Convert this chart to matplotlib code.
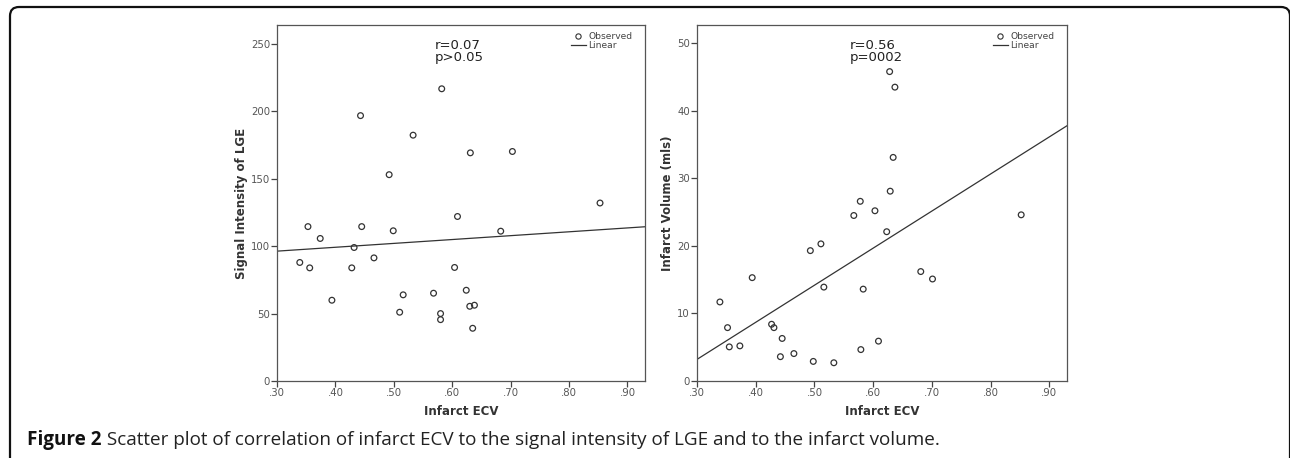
import numpy as np
import matplotlib
matplotlib.use("Agg")
import matplotlib.pyplot as plt
from matplotlib.lines import Line2D
from matplotlib.patches import FancyBboxPatch
from matplotlib.transforms import IdentityTransform

# infarct ECV for the 29 patients (same x in both panels)
ecv_si = [0.582, 0.443, 0.533, 0.631, 0.703, 0.492, 0.853, 0.609, 0.353, 0.445,
          0.499, 0.683, 0.374, 0.432, 0.339, 0.356, 0.428, 0.466, 0.604, 0.394,
          0.516, 0.510, 0.568, 0.624, 0.630, 0.638, 0.580, 0.580, 0.635]
signal_lge = [216.7, 196.8, 182.3, 169.2, 170.2, 153.0, 132.0, 122.0, 114.5, 114.5,
              111.4, 111.1, 105.7, 99.0, 87.9, 83.9, 83.9, 91.3, 84.2, 59.9,
              63.9, 51.0, 65.1, 67.3, 55.4, 56.2, 50.0, 45.5, 39.1]

ecv_vol = [0.628, 0.637, 0.634, 0.629, 0.578, 0.603, 0.567, 0.852, 0.623, 0.511,
           0.493, 0.394, 0.681, 0.701, 0.516, 0.583, 0.339, 0.352, 0.427, 0.431,
           0.355, 0.373, 0.445, 0.442, 0.465, 0.498, 0.533, 0.579, 0.609]
infarct_vol = [45.8, 43.5, 33.1, 28.1, 26.6, 25.2, 24.5, 24.6, 22.1, 20.3,
               19.3, 15.3, 16.2, 15.1, 13.9, 13.6, 11.7, 7.9, 8.4, 7.9,
               5.05, 5.2, 6.3, 3.6, 4.06, 2.9, 2.7, 4.65, 5.9]

# linear fit lines: value at ECV=.30 and slope
fit_si = (96.3, 28.7)
fit_vol = (3.2, 54.9)

x_ticks = [0.30, 0.40, 0.50, 0.60, 0.70, 0.80, 0.90]
x_ticklabels = [".30", ".40", ".50", ".60", ".70", ".80", ".90"]
si_ticks = [0, 50, 100, 150, 200, 250]
vol_ticks = [0, 10, 20, 30, 40, 50]

stats_si = "r=0.07\np>0.05"
stats_vol = "r=0.56\np=0002"
caption_bold = "Figure 2"
caption_text = " Scatter plot of correlation of infarct ECV to the signal intensity of LGE and to the infarct volume."

W, H = 1290, 458
fig = plt.figure(figsize=(W / 100, H / 100), dpi=100)


def make_panel(rect, x, y, fit, yticks, ylim, ylabel, stats, stats_x):
    ax = fig.add_axes(rect)
    ax.scatter(x, y, s=17, facecolors="none", edgecolors="#333333", linewidths=0.9, zorder=3)
    xs = np.array([0.30, 0.93])
    ax.plot(xs, fit[0] + fit[1] * (xs - 0.30), color="#333333", lw=0.9)
    ax.set_xlim(0.30, 0.93)
    ax.set_ylim(*ylim)
    ax.set_xticks(x_ticks)
    ax.set_xticklabels(x_ticklabels)
    ax.set_yticks(yticks)
    ax.tick_params(direction="out", length=4, width=0.9, color="#444444",
                   labelsize=7.3, labelcolor="#555555", pad=1)
    for s in ax.spines.values():
        s.set_color("#555555")
        s.set_linewidth(0.9)
    ax.set_xlabel("Infarct ECV", fontsize=8.5, fontweight="bold", color="#333333", labelpad=5)
    ax.set_ylabel(ylabel, fontsize=8.5, fontweight="bold", color="#333333", labelpad=2)
    ax.text(stats_x, 0.96, stats, transform=ax.transAxes, fontsize=9.5,
            color="#222222", va="top", ha="left", linespacing=0.9)
    handles = [Line2D([], [], ls="none", marker="o", mfc="none", mec="#333333", ms=3.8, mew=0.8),
               Line2D([], [], color="#333333", lw=0.9)]
    ax.legend(handles, ["Observed", "Linear"], loc="upper right", bbox_to_anchor=(0.985, 1.0),
              frameon=False, fontsize=6.6, handlelength=1.6, handletextpad=0.3,
              labelspacing=0.0, borderpad=0.25, labelcolor="#444444")
    return ax


make_panel([277 / W, 1 - 381 / H, 368 / W, 356 / H], ecv_si, signal_lge, fit_si,
           si_ticks, (0, 264), "Signal Intensity of LGE", stats_si, 0.428)
make_panel([697 / W, 1 - 381 / H, 370 / W, 356 / H], ecv_vol, infarct_vol, fit_vol,
           vol_ticks, (0, 52.7), "Infarct Volume (mls)", stats_vol, 0.413)

# outer rounded frame (pixel coordinates)
frame = FancyBboxPatch((10, -40), 1280, 40 + (H - 7), boxstyle="round,pad=0,rounding_size=9",
                       transform=IdentityTransform(), fill=False, lw=1.6, ec="#111111")
fig.patches.append(frame)

t = fig.text(27 / W, 1 - 445 / H, caption_bold, fontsize=13.6, fontweight="bold",
             family="Open Sans", va="baseline", ha="left", color="#111111")
fig.canvas.draw()
bb = t.get_window_extent()
fig.text(bb.x1 / W, 1 - 445 / H, caption_text, fontsize=13.6, family="Open Sans",
         va="baseline", ha="left", color="#222222")

fig.savefig("out.png", dpi=100)
